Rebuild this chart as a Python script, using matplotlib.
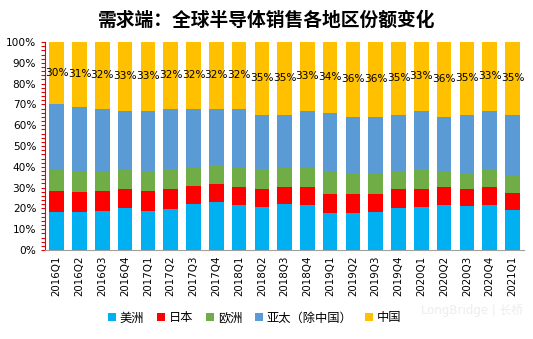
import numpy as np
import matplotlib.pyplot as plt
from matplotlib.ticker import MultipleLocator, PercentFormatter

plt.rcParams['font.family'] = ['DejaVu Sans', 'Noto Sans CJK SC']

quarters = ['2016Q1', '2016Q2', '2016Q3', '2016Q4', '2017Q1', '2017Q2', '2017Q3',
            '2017Q4', '2018Q1', '2018Q2', '2018Q3', '2018Q4', '2019Q1', '2019Q2',
            '2019Q3', '2019Q4', '2020Q1', '2020Q2', '2020Q3', '2020Q4', '2021Q1']

americas = [18.5, 18.3, 18.8, 20.4, 18.8, 19.7, 22.3, 23.3, 21.8, 20.9, 22.3,
            21.7, 18.0, 18.0, 18.5, 20.4, 20.9, 21.8, 21.3, 21.8, 19.4]
japan = [10.0, 9.6, 9.8, 9.1, 9.8, 9.4, 8.7, 8.6, 8.7, 8.6, 8.2,
         8.8, 9.1, 9.1, 8.6, 8.7, 8.2, 8.7, 8.2, 8.7, 8.2]
europe = [10.0, 10.1, 9.4, 9.0, 9.4, 9.9, 9.1, 9.2, 9.6, 9.5, 9.1,
          9.1, 10.6, 9.5, 9.5, 8.9, 9.9, 7.5, 7.6, 8.5, 8.5]
apac = [31.5, 31.0, 30.0, 28.5, 29.0, 29.0, 27.9, 26.9, 27.9, 26.0, 25.4,
        27.4, 28.3, 27.4, 27.4, 27.0, 28.0, 26.0, 27.9, 28.0, 28.9]
china = [30, 31, 32, 33, 33, 32, 32, 32, 32, 35, 35,
         33, 34, 36, 36, 35, 33, 36, 35, 33, 35]

series = [('美洲', americas, '#00B0F0'),
          ('日本', japan, '#FF0000'),
          ('欧洲', europe, '#70AD47'),
          ('亚太（除中国）', apac, '#5B9BD5'),
          ('中国', china, '#FFC000')]

fig = plt.figure(figsize=(5.33, 3.39), dpi=100)
ax = fig.add_axes([0.085, 0.2625, 0.898, 0.6135])

x = np.arange(len(quarters))
bottom = np.zeros(len(quarters))
for name, vals, color in series:
    vals = np.array(vals, dtype=float)
    ax.bar(x, vals, 0.64, bottom=bottom, color=color, label=name, zorder=2)
    if name == '中国':
        # share labels sit in the middle of the top segment
        for xi, b, v in zip(x, bottom, vals):
            ax.text(xi, b + v / 2, '%d%%' % v, ha='center', va='center',
                    fontsize=7.6, color='black', zorder=3)
    bottom += vals

ax.set_xlim(-0.5, len(quarters) - 0.5)
ax.set_ylim(0, 100)
ax.yaxis.set_major_locator(MultipleLocator(10))
ax.yaxis.set_minor_locator(MultipleLocator(2))
ax.yaxis.set_major_formatter(PercentFormatter(decimals=0))
ax.tick_params(axis='y', which='both', direction='out', colors='#E00000',
               labelcolor='black', labelsize=7.6, length=3, width=0.8)
ax.tick_params(axis='x', length=0, labelsize=7.4, pad=4)
ax.set_xticks(x)
ax.set_xticklabels(quarters, rotation=90)

for side in ['top', 'right']:
    ax.spines[side].set_visible(False)
ax.spines['left'].set_color('#E00000')
ax.spines['bottom'].set_color('#A0A0A0')

fig.text(0.5, 0.94, '需求端：全球半导体销售各地区份额变化', ha='center', va='center',
         fontsize=13.5, fontweight='bold', family='Noto Sans CJK SC')

leg = fig.legend(loc='center', bbox_to_anchor=(0.478, 0.062), ncol=5, frameon=False,
                 handlelength=0.65, handleheight=0.65, handletextpad=0.3,
                 columnspacing=1.05, prop={'family': 'Noto Sans CJK SC', 'size': 8.8})

fig.text(0.885, 0.085, 'LongBridge | 长桥', ha='center', va='center', fontsize=8.5,
         color='#EDEDED', family=['DejaVu Sans', 'Noto Sans CJK SC'])

fig.savefig('out.png', dpi=100)
